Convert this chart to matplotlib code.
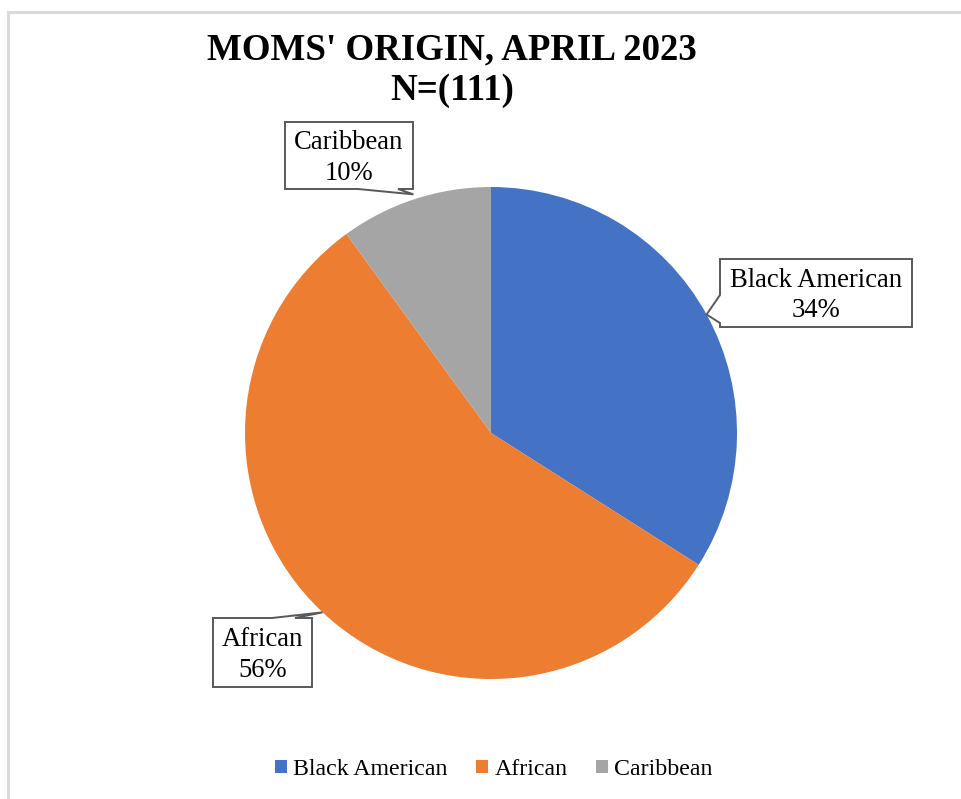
import numpy as np
import matplotlib
matplotlib.use("Agg")
import matplotlib.pyplot as plt
from matplotlib.patches import Polygon, Patch
from matplotlib.lines import Line2D

# ---- data ----
categories = ["Black American", "African", "Caribbean"]
percentages = [34, 56, 10]
colors = ["#4472C4", "#ED7D31", "#A5A5A5"]
title_lines = ["MOMS' ORIGIN, APRIL 2023", "N=(111)"]

W, H = 961, 799
fig = plt.figure(figsize=(W / 100, H / 100), dpi=100)
ax = fig.add_axes([0, 0, 1, 1])

serif = ["Liberation Serif", "DejaVu Serif"]

def Y(yp):
    return H - yp

cx, cy, R = 491, 433, 246
wedges, _ = ax.pie(percentages, colors=colors, startangle=90, counterclock=False,
                   center=(cx, Y(cy)), radius=R, frame=True,
                   wedgeprops=dict(linewidth=0))
ax.set_xlim(0, W)
ax.set_ylim(0, H)
ax.set_aspect("auto")
ax.axis("off")

# chart area border (left/top visible)
ax.add_line(Line2D([8, 8, W + 5], [Y(H + 5), Y(12), Y(12)], color="#D9D9D9", lw=2.2,
                   solid_joinstyle="miter", zorder=0))

# title
ax.text(452, Y(50), title_lines[0], ha="center", va="center", fontsize=26.6,
        fontweight="bold", family=serif)
ax.text(452, Y(91), title_lines[1], ha="center", va="center", fontsize=26.6,
        fontweight="bold", family=serif)

def tip_of(w, rfrac=1.0):
    a = np.deg2rad((w.theta1 + w.theta2) / 2)
    return (cx + rfrac * R * np.cos(a), Y(cy) + rfrac * R * np.sin(a))

# callout boxes: (l, t, r, b) in pixel coords, side of tail, base span
callouts = [
    (0, (720, 259, 912, 327), "left", (295, 323), 1.0),
    (1, (213, 618, 312, 687), "top", (272, 295), 1.0),
    (2, (285, 122, 413, 189), "bottom", (358, 398), 1.02),
]
for idx, (l, t, r, b), side, (s0, s1), rf in callouts:
    tx, ty = tip_of(wedges[idx], rf)
    if side == "left":
        pts = [(l, Y(t)), (r, Y(t)), (r, Y(b)), (l, Y(b)), (l, Y(s1)), (tx, ty), (l, Y(s0))]
    elif side == "top":
        pts = [(l, Y(t)), (s0, Y(t)), (tx, ty), (s1, Y(t)), (r, Y(t)), (r, Y(b)), (l, Y(b))]
    else:
        pts = [(l, Y(t)), (r, Y(t)), (r, Y(b)), (s1, Y(b)), (tx, ty), (s0, Y(b)), (l, Y(b))]
    ax.add_patch(Polygon(pts, closed=True, facecolor="white", edgecolor="#595959",
                         lw=1.4, zorder=5, joinstyle="miter"))
    ax.text((l + r) / 2, Y((t + b) / 2 + 2.5), f"{categories[idx]}\n{percentages[idx]}%",
            ha="center", va="center", fontsize=19.2, family=serif, zorder=6,
            linespacing=1.27)

handles = [Patch(facecolor=c, edgecolor="none") for c in colors]
leg = ax.legend(handles, categories, ncol=3, loc="center",
                bbox_to_anchor=(494, Y(769.5)), bbox_transform=ax.transData,
                frameon=False, prop={"family": serif, "size": 17.2},
                handlelength=0.5, handleheight=0.5, handletextpad=0.25,
                columnspacing=1.2, borderpad=0)

fig.savefig("out.png", dpi=100)
